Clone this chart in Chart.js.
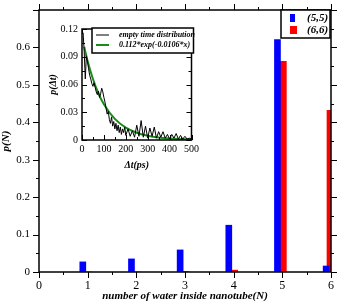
<!DOCTYPE html>
<html>
<head>
<meta charset="utf-8">
<script src="https://cdn.jsdelivr.net/npm/chart.js@4.4.0/dist/chart.umd.min.js"></script>
<style>
  body { margin: 0; background: #fff; }
  #wrap { position: relative; width: 340px; height: 306px; }
  #main { position: absolute; left: 0; top: 0; }
  #inset { position: absolute; left: 45px; top: 20px; }
</style>
</head>
<body>
<div id="wrap">
  <canvas id="main" width="340" height="306"></canvas>
  <canvas id="inset" width="155" height="155"></canvas>
</div>
<script>
// main plot: probability of N waters inside the tube
const waterN = [1, 2, 3, 4, 5, 6];
const p55 = [0.027, 0.035, 0.059, 0.125, 0.621, 0.016];
const p66 = [0, 0, 0.001, 0.005, 0.563, 0.432];
const seriesNames = ["(5,5)", "(6,6)"];

// inset: empty time distribution and its fit
const emptyT = [5, 10, 15, 20, 25, 30, 35, 40, 45, 50, 55, 60, 65, 70, 75, 80, 85, 90, 95, 100,
  105, 110, 115, 120, 125, 130, 135, 140, 145, 150, 155, 160, 165, 170, 175, 180, 185, 190, 195, 200,
  210, 220, 230, 240, 250, 260, 270, 280, 290, 300, 310, 320, 330, 340, 350, 360, 370, 380, 390, 400,
  410, 420, 430, 440, 450, 460, 470, 480, 490, 500];
const emptyP = [0.116, 0.096, 0.066, 0.091, 0.085, 0.077, 0.07, 0.066, 0.061, 0.058,
  0.062, 0.057, 0.052, 0.049, 0.053, 0.046, 0.05, 0.056, 0.052, 0.046,
  0.041, 0.034, 0.028, 0.031, 0.022, 0.018, 0.025, 0.015, 0.02, 0.012,
  0.018, 0.01, 0.016, 0.008, 0.014, 0.006, 0.012, 0.008, 0.014, 0.005,
  0.012, 0.004, 0.01, 0.003, 0.016, 0.004, 0.021, 0.003, 0.015, 0.002,
  0.013, 0.004, 0.014, 0.002, 0.009, 0.003, 0.009, 0.002, 0.006, 0.001,
  0.006, 0.002, 0.007, 0.001, 0.005, 0.001, 0.004, 0.001, 0.002, 0.001];
const fitT = [10, 25, 50, 75, 100, 150, 200, 250, 300, 350, 400, 450, 500];
const fitP = [0.1007, 0.086, 0.066, 0.0505, 0.0387, 0.0228, 0.0134, 0.0079, 0.0047, 0.0027, 0.0016, 0.0009, 0.0006];
const insetNames = ["empty time distribution", "0.112*exp(-0.0106*x)"];

const SERIF = "'Liberation Serif', 'DejaVu Serif', serif";

// frame + major/minor ticks on all four sides
function frameTicks(id, o) {
  return {
    id: id,
    afterDraw(chart) {
      const ctx = chart.ctx, a = chart.chartArea;
      const xs = chart.scales.x, ys = chart.scales.y;
      const d = o.inward ? -1 : 1;
      ctx.save();
      ctx.strokeStyle = "#000";
      ctx.lineWidth = 1;
      for (let v = xs.min; v <= xs.max + 1e-9; v += o.xMinor) {
        const px = Math.round(xs.getPixelForValue(v)) + 0.5;
        const major = Math.abs(v / o.xMajor - Math.round(v / o.xMajor)) < 1e-6;
        const len = major ? o.major : o.minor;
        ctx.beginPath();
        ctx.moveTo(px, a.bottom); ctx.lineTo(px, a.bottom + d * len);
        ctx.moveTo(px, a.top); ctx.lineTo(px, a.top - d * len);
        ctx.stroke();
      }
      for (let v = ys.min; v <= ys.max + 1e-9; v += o.yMinor) {
        const py = Math.round(ys.getPixelForValue(v)) + 0.5;
        const major = Math.abs(v / o.yMajor - Math.round(v / o.yMajor)) < 1e-6;
        const len = major ? o.major : o.minor;
        ctx.beginPath();
        ctx.moveTo(a.left, py); ctx.lineTo(a.left - d * len, py);
        ctx.moveTo(a.right, py); ctx.lineTo(a.right + d * len, py);
        ctx.stroke();
      }
      ctx.lineWidth = 1.5;
      ctx.strokeRect(a.left, a.top, a.right - a.left, a.bottom - a.top);
      ctx.restore();
    }
  };
}

const mainLegend = {
  id: "mainLegend",
  afterDraw(chart) {
    const ctx = chart.ctx, a = chart.chartArea;
    const x0 = a.right - 50, y0 = a.top, w = 49, h = 28;
    ctx.save();
    ctx.fillStyle = "#fff";
    ctx.fillRect(x0, y0, w, h);
    ctx.strokeStyle = "#000";
    ctx.lineWidth = 1.5;
    ctx.strokeRect(x0, y0, w, h);
    ctx.font = "italic bold 11px " + SERIF;
    ctx.textBaseline = "middle";
    chart.data.datasets.forEach((ds, i) => {
      const cy = y0 + 8 + i * 12;
      const bw = i === 0 ? 5 : 7;
      ctx.fillStyle = ds.backgroundColor;
      ctx.fillRect(x0 + 9, cy - 4, bw, 8);
      ctx.fillStyle = "#000";
      ctx.fillText(ds.label, x0 + 26, cy);
    });
    ctx.restore();
  }
};

const insetLegend = {
  id: "insetLegend",
  afterDraw(chart) {
    const ctx = chart.ctx, a = chart.chartArea;
    const x0 = a.left + 10, y0 = a.top - 1, w = a.right + 2 - x0, h = 25;
    ctx.save();
    ctx.fillStyle = "#fff";
    ctx.fillRect(x0, y0, w, h);
    ctx.strokeStyle = "#000";
    ctx.lineWidth = 1.5;
    ctx.strokeRect(x0, y0, w, h);
    ctx.font = "italic bold 8px " + SERIF;
    ctx.textBaseline = "middle";
    chart.data.datasets.forEach((ds, i) => {
      const cy = y0 + 7 + i * 10;
      ctx.strokeStyle = ds.borderColor;
      ctx.lineWidth = ds.borderWidth;
      ctx.beginPath();
      ctx.moveTo(x0 + 4, cy); ctx.lineTo(x0 + 17, cy);
      ctx.stroke();
      ctx.fillStyle = "#000";
      ctx.fillText(ds.label, x0 + 27, cy);
    });
    ctx.restore();
  }
};

// main bar chart
new Chart(document.getElementById("main"), {
  type: "bar",
  data: {
    datasets: [
      {
        label: seriesNames[0],
        data: waterN.map((n, i) => ({ x: n - 0.1, y: p55[i] })),
        backgroundColor: "#0000ff",
        barThickness: 6,
        grouped: false,
      },
      {
        label: seriesNames[1],
        data: waterN.map((n, i) => ({ x: n, y: p66[i] })),
        backgroundColor: "#ff0000",
        barThickness: 8,
        grouped: false,
      },
    ],
  },
  options: {
    responsive: false,
    animation: false,
    events: [],
    layout: { padding: { top: 10, right: 9, left: 0, bottom: 0 } },
    plugins: { legend: { display: false }, tooltip: { enabled: false } },
    scales: {
      x: {
        type: "linear",
        min: 0,
        max: 6,
        offset: false,
        afterFit: (s) => { s.height = 34; },
        grid: { drawOnChartArea: false, tickLength: 6, color: "rgba(0,0,0,0)" },
        border: { display: false },
        ticks: { stepSize: 1, padding: 1, color: "#000", font: { family: SERIF, size: 12 } },
        title: {
          display: true,
          text: "number of water inside nanotube(N)",
          color: "#000",
          padding: { top: 0, bottom: 3 },
          font: { family: SERIF, size: 11, style: "italic", weight: "bold" },
        },
      },
      y: {
        min: 0,
        max: 0.7,
        afterFit: (s) => { s.width = 39; },
        grid: { drawOnChartArea: false, tickLength: 6, color: "rgba(0,0,0,0)" },
        border: { display: false },
        ticks: {
          stepSize: 0.1,
          padding: 3,
          color: "#000",
          font: { family: SERIF, size: 11 },
          callback: (v) => (v > 0.65 ? "" : v === 0 ? "0" : v.toFixed(1)),
        },
        title: {
          display: true,
          text: "p(N)",
          color: "#000",
          padding: { top: 0, bottom: 0 },
          font: { family: SERIF, size: 11, style: "italic", weight: "bold" },
        },
      },
    },
  },
  plugins: [frameTicks("mainFrame", { inward: false, xMajor: 1, xMinor: 0.5, yMajor: 0.1, yMinor: 0.05, major: 6, minor: 3 }), mainLegend],
});

// inset line chart
new Chart(document.getElementById("inset"), {
  type: "line",
  data: {
    datasets: [
      {
        label: insetNames[0],
        data: emptyT.map((t, i) => ({ x: t, y: emptyP[i] })),
        borderColor: "#000",
        borderWidth: 1,
        pointRadius: 0,
        fill: false,
      },
      {
        label: insetNames[1],
        data: fitT.map((t, i) => ({ x: t, y: fitP[i] })),
        borderColor: "#1a8c1a",
        borderWidth: 2,
        pointRadius: 0,
        cubicInterpolationMode: "monotone",
        fill: false,
      },
    ],
  },
  options: {
    responsive: false,
    animation: false,
    events: [],
    layout: { padding: { top: 9, right: 7, left: 0, bottom: 0 } },
    plugins: { legend: { display: false }, tooltip: { enabled: false } },
    scales: {
      x: {
        type: "linear",
        min: 0,
        max: 500,
        afterFit: (s) => { s.height = 35; },
        grid: { drawOnChartArea: false, tickLength: 2, color: "rgba(0,0,0,0)" },
        border: { display: false },
        ticks: { stepSize: 100, padding: 1, maxRotation: 0, color: "#000", font: { family: SERIF, size: 10 } },
        title: {
          display: true,
          text: "\u0394t(ps)",
          color: "#000",
          padding: { top: 0, bottom: 4 },
          font: { family: SERIF, size: 10, style: "italic", weight: "bold" },
        },
      },
      y: {
        min: 0,
        max: 0.12,
        afterFit: (s) => { s.width = 37; },
        grid: { drawOnChartArea: false, tickLength: 2, color: "rgba(0,0,0,0)" },
        border: { display: false },
        ticks: {
          stepSize: 0.03,
          padding: 2,
          color: "#000",
          font: { family: SERIF, size: 10 },
          callback: (v) => (v === 0 ? "0" : v.toFixed(2)),
        },
        title: {
          display: true,
          text: "p(\u0394t)",
          color: "#000",
          padding: { top: 2, bottom: 0 },
          font: { family: SERIF, size: 10, style: "italic", weight: "bold" },
        },
      },
    },
  },
  plugins: [frameTicks("insetFrame", { inward: true, xMajor: 100, xMinor: 50, yMajor: 0.03, yMinor: 0.015, major: 5, minor: 3 }), insetLegend],
});
</script>
</body>
</html>
